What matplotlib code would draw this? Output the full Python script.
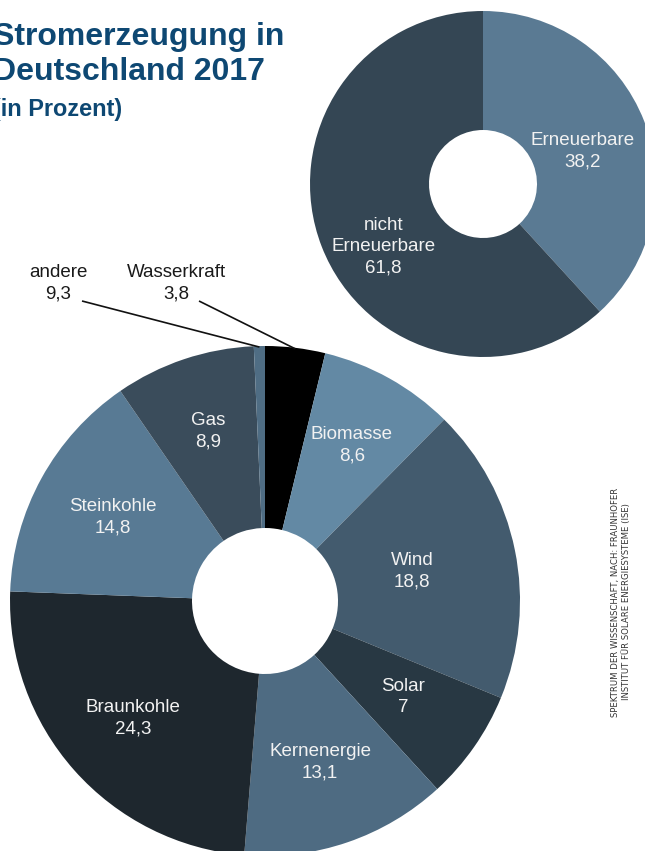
import numpy as np
import matplotlib
matplotlib.use("Agg")
import matplotlib.pyplot as plt

# Stromerzeugung in Deutschland 2017 (in Prozent)
kategorien = ["Wasserkraft", "Biomasse", "Wind", "Solar", "Kernenergie",
              "Braunkohle", "Steinkohle", "Gas", "andere"]
anteile = [3.8, 8.6, 18.8, 7.0, 13.1, 24.3, 14.8, 8.9, 0.7]
werte_text = ["3,8", "8,6", "18,8", "7", "13,1", "24,3", "14,8", "8,9", "9,3"]
farben = ["#000000", "#6389a4", "#435b6e", "#283843", "#4e6b82",
          "#1e272e", "#587a94", "#3a4c5b", "#4f6d84"]

gruppen = ["Erneuerbare", "nicht\nErneuerbare"]
gruppen_anteile = [38.2, 61.8]
gruppen_text = ["38,2", "61,8"]
gruppen_farben = ["#5a7a93", "#344654"]

B, H = 645, 851
plt.rcParams["font.family"] = ["Liberation Sans", "DejaVu Sans"]

fig = plt.figure(figsize=(B / 100, H / 100), dpi=100)
ax = fig.add_axes([0, 0, 1, 1])


def y(py):
    # Pixel von oben -> Datenkoordinate von unten
    return H - py


def torte(werte, farb, mitte, r, loch):
    keile, _ = ax.pie(werte, colors=farb, center=mitte, radius=r,
                      startangle=90, counterclock=False,
                      wedgeprops=dict(width=r - loch, edgecolor="none", linewidth=0))
    return keile


def punkt(keil, mitte, abstand, dreh=0):
    w = np.deg2rad((keil.theta1 + keil.theta2) / 2 + dreh)
    return mitte[0] + abstand * np.cos(w), mitte[1] + abstand * np.sin(w)


# kleine Torte oben rechts
m1 = (483, y(184))
k1 = torte(gruppen_anteile, gruppen_farben, m1, 173, 54)
lage1 = [(105, -3), (118, 11)]  # Abstand, Drehung der Beschriftung
for keil, name, wert, (ab, dr) in zip(k1, gruppen, gruppen_text, lage1):
    px, py = punkt(keil, m1, ab, dr)
    ax.text(px, py, name + "\n" + wert, ha="center", va="center", color="#f2f2f2",
            fontsize=13.5, linespacing=1.35)

# grosse Torte unten
m2 = (265, y(601))
k2 = torte(anteile, farben, m2, 255, 73)
abstaende = [0, 178, 150, 168, 170, 176, 174, 179, 0]
for keil, name, wert, ab in zip(k2, kategorien, werte_text, abstaende):
    if name in ("Wasserkraft", "andere"):
        continue
    px, py = punkt(keil, m2, ab)
    ax.text(px, py, name + "\n" + wert, ha="center", va="center", color="#f2f2f2",
            fontsize=13.5, linespacing=1.35)

# Beschriftung ausserhalb mit Linien
aussen = {"andere": ((58, y(283)), (82, y(301))),
          "Wasserkraft": ((176, y(283)), (199, y(301)))}
for keil, name, wert in zip(k2, kategorien, werte_text):
    if name not in aussen:
        continue
    (tx, ty), (lx, ly) = aussen[name]
    ax.text(tx, ty, name + "\n" + wert, ha="center", va="center", color="#1a1a1a",
            fontsize=13.5, linespacing=1.35)
    ex, ey = punkt(keil, m2, 254)
    ax.plot([lx, ex], [ly, ey], color="#111111", lw=1.2, solid_capstyle="butt")

# Titel (links wie im Original angeschnitten)
blau = "#0e4873"
ax.text(-7, y(45), "Stromerzeugung in", color=blau, fontsize=23, fontweight="bold",
        ha="left", va="baseline")
ax.text(-7, y(80), "Deutschland 2017", color=blau, fontsize=23, fontweight="bold",
        ha="left", va="baseline")
ax.text(-7, y(116), "(in Prozent)", color=blau, fontsize=16.9, fontweight="bold",
        ha="left", va="baseline")

# Quelle
ax.text(621, y(602), "SPEKTRUM DER WISSENSCHAFT, NACH: FRAUNHOFER\nINSTITUT FÜR SOLARE ENERGIESYSTEME (ISE)",
        rotation=90, ha="center", va="center", fontsize=6.1, color="#333333",
        family=["Liberation Sans Narrow", "DejaVu Sans"], linespacing=1.25)

ax.set_xlim(0, B)
ax.set_ylim(0, H)
ax.set_aspect("equal")
ax.axis("off")

fig.savefig("out.png", dpi=100, facecolor="white")
